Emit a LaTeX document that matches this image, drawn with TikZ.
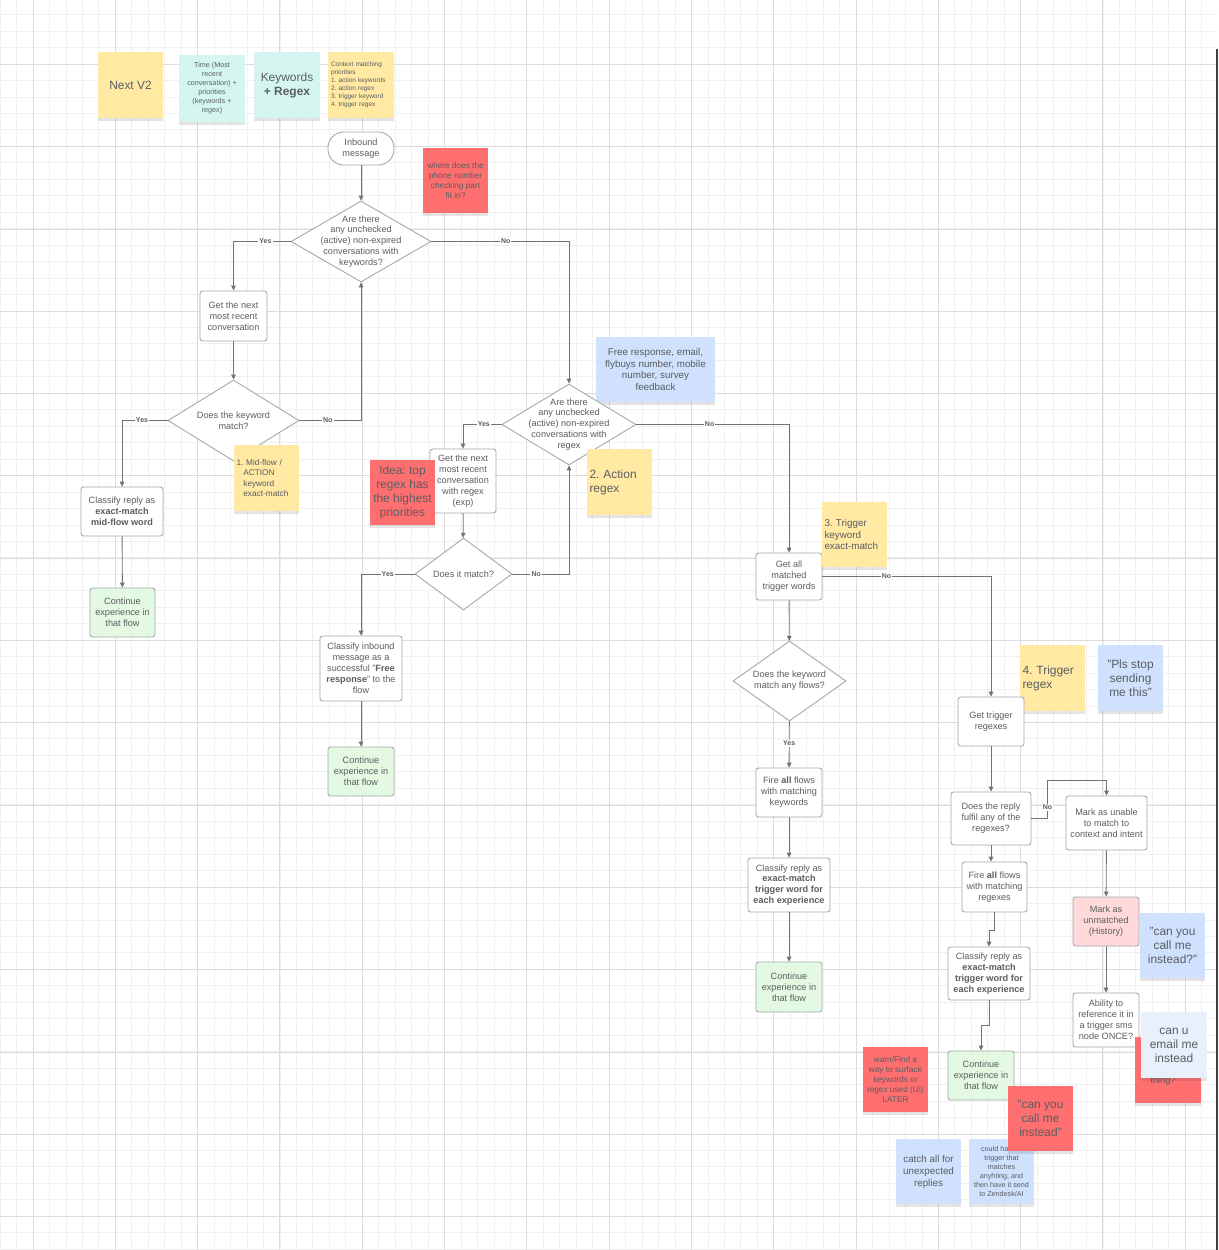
\documentclass[tikz,border=0pt]{standalone}
\usepackage{fontspec}
\setmainfont{Liberation Sans}
\usetikzlibrary{shapes.geometric,arrows.meta,shadows}
\frenchspacing

\definecolor{txtgray}{HTML}{5A5D62}
\definecolor{boxgray}{HTML}{A3A7AD}
\definecolor{linegray}{HTML}{6E737A}
\definecolor{yelst}{HTML}{FFE9A3}
\definecolor{cyanst}{HTML}{D5F6F0}
\definecolor{redst}{HTML}{FF6F6F}
\definecolor{bluest}{HTML}{CFE1FD}
\definecolor{paleblue}{HTML}{E8F0FC}
\definecolor{greenbox}{HTML}{E3F9E1}
\definecolor{pinkbox}{HTML}{FFD9D9}
\definecolor{gridmin}{HTML}{F0F0F0}
\definecolor{gridmaj}{HTML}{DCDCDC}

\begin{document}
\begin{tikzpicture}[x=0.02cm, y=-0.02cm,
  txt/.style={font=\fontsize{5.2}{6.2}\selectfont, text=txtgray, align=center},
  big/.style={font=\fontsize{6.8}{8}\selectfont},
  mid/.style={font=\fontsize{5.6}{6.8}\selectfont},
  small/.style={font=\fontsize{4.7}{5.8}\selectfont},
  tiny/.style={font=\fontsize{4.1}{5.1}\selectfont},
  sz/.style 2 args={minimum width=#1*\pxu, minimum height=#2*\pxu},
  box/.style={draw=boxgray, line width=.5pt, rounded corners=1.5pt, fill=white, inner sep=1pt, txt},
  dec/.style={draw=boxgray, line width=.5pt, diamond, fill=white, inner sep=0pt},
  sticky/.style={fill=#1, inner sep=1pt, txt,
    drop shadow={shadow xshift=0pt, shadow yshift=-1.6pt, opacity=.15, fill=black!70}},
  conn/.style={draw=linegray, line width=.5pt, -{Triangle[width=2.6pt,length=2.8pt]}},
  lbl/.style={font=\fontsize{4}{4}\selectfont\bfseries, text=txtgray, fill=white, inner sep=.6pt}
]

% rozmiar piksela
\def\pxu{0.02cm}

\useasboundingbox (0,0) rectangle (1218,1250);
\fill[white] (0,0) rectangle (1218,1250);

% ---------- Siatka ----------
\foreach \i in {0,...,73} {
  \draw[gridmin, line width=.4pt] ({0.08+16.46*\i},0) -- ++(0,1250);
}
\foreach \j in {0,...,75} {
  \draw[gridmin, line width=.4pt] (0,{14.6+16.46*\j}) -- ++(1218,0);
}
\foreach \i in {0,...,14} {
  \draw[gridmaj, line width=.5pt] ({33+82.3*\i},0) -- ++(0,1250);
}
\foreach \j in {1,...,15} {
  \draw[gridmaj, line width=.5pt] (0,{-17.9+82.3*\j}) -- ++(1218,0);
}
\draw[black!75, line width=.7pt] (1217,49) -- (1217,1250);

% ---------- Karteczki u gory ----------
\node[sticky=yelst, sz={65}{66}, big] (nextv2) at (130.5,85) {Next V2};
\node[sticky=cyanst, sz={66}{67}, tiny] (timep) at (212,88.5)
  {Time (Most\\recent\\conversation) +\\priorities\\(keywords +\\regex)};
\node[sticky=cyanst, sz={66}{66}, big] (kwrx) at (287,85) {Keywords\\\textbf{+ Regex}};
\node[sticky=yelst, sz={66}{66}, font=\fontsize{3.7}{4.6}\selectfont, align=left,
  text width=60*\pxu] (ctxp) at (361,85)
  {Context matching\\priorities\\1. action keywords\\2. action regex\\3. trigger keyword\\4. trigger regex};

% ---------- Start ----------
\node[box, sz={66}{33}, rounded corners=9pt] (inbound) at (361,148.5) {Inbound\\message};
\node[sticky=redst, sz={65}{65}, small] (phone) at (455.5,180.5)
  {where does the\\phone number\\checking part\\fit in?};

% ---------- Slowa kluczowe (mid-flow) ----------
\node[dec, sz={140}{81}, label={[txt]center:{Are there\\any unchecked\\(active) non-expired\\conversations with\\keywords?}}] (d1) at (361,241.5) {};
\node[box, sz={67}{50}] (getnext) at (233.5,316) {Get the next\\most recent\\conversation};
\node[dec, sz={131}{81}, label={[txt]center:{Does the keyword\\match?}}] (d2) at (233.5,420.5) {};
\node[box, sz={82}{49}] (classmid) at (122,511.5) {Classify reply as\\\textbf{exact-match}\\\textbf{mid-flow word}};
\node[box, sz={65}{49}, fill=greenbox] (cont1) at (122.5,612.5) {Continue\\experience in\\that flow};
\node[sticky=yelst, sz={65}{66}, small, align=left, text width=60*\pxu] (mid1) at (266.5,478)
  {1. Mid-flow /\\\phantom{1.}ACTION\\\phantom{1.}keyword\\\phantom{1.}exact-match};

\draw[conn] (inbound) -- (d1);
\draw[conn] (d1.west) -| node[lbl, pos=.22] (y1) {Yes} (getnext.north);
\draw[conn] (getnext) -- (d2);
\draw[conn] (d2.west) -| node[lbl, pos=.28] (y2) {Yes} (classmid.north);
\draw[conn] (d2.east) -| node[lbl, pos=.23] (n2) {No} (d1.south);
\draw[conn] (classmid) -- (cont1);

% ---------- Regex (action) ----------
\node[sticky=bluest, sz={119}{65}, mid] (freeresp) at (655.5,369.5)
  {Free response, email,\\flybuys number, mobile\\number, survey\\feedback};
\node[dec, sz={134}{81}, label={[txt]center:{Are there\\any unchecked\\(active) non-expired\\conversations with\\regex}}] (d3) at (569,424.5) {};
\node[box, sz={66}{64}] (getnextrx) at (463,481) {Get the next\\most recent\\conversation\\with regex\\(exp)};
\node[sticky=redst, sz={65}{65}, big] (idea) at (402.5,492.5) {Idea: top\\regex has\\the highest\\priorities};
\node[sticky=yelst, sz={65}{66}, big, align=left, text width=60*\pxu] (act2) at (619.5,482) {2. Action\\regex};
\node[dec, sz={97}{72}, label={[txt]center:{Does it match?}}] (d4) at (463.5,574) {};
\node[box, sz={82}{65}] (classfree) at (361,668.5)
  {Classify inbound\\message as a\\successful "\textbf{Free}\\\textbf{response}" to the\\flow};
\node[box, sz={66}{49}, fill=greenbox] (cont2) at (361,771.5) {Continue\\experience in\\that flow};

\draw[conn] (d1.east) -| node[lbl, pos=.27] (n1) {No} (d3.north);
\draw[conn] (d3.west) -| node[lbl, pos=.23] (y3) {Yes} (getnextrx.north);
\draw[conn] (getnextrx) -- (d4);
\draw[conn] (d4.west) -| node[lbl, pos=.25] (y4) {Yes} (classfree.north);
\draw[conn] (d4.east) -| node[lbl, pos=.21] (n4) {No} (d3.south);
\draw[conn] (classfree) -- (cont2);

% ---------- Slowa wyzwalajace ----------
\node[box, sz={66}{47}] (gettrig) at (789,576.5) {Get all\\matched\\trigger words};
\node[sticky=yelst, sz={65}{65}, mid, align=left, text width=60*\pxu] (trig3) at (854.5,534.5)
  {3. Trigger\\keyword\\exact-match};
\node[dec, sz={113}{80}, label={[txt]center:{Does the keyword\\match any flows?}}] (d5) at (789.5,681) {};
\node[box, sz={66}{49}] (fireall) at (789,792.5) {Fire \textbf{all} flows\\with matching\\keywords};
\node[box, sz={82}{54}] (classtrig) at (789,885)
  {Classify reply as\\\textbf{exact-match}\\\textbf{trigger word for}\\\textbf{each experience}};
\node[box, sz={66}{50}, fill=greenbox] (cont3) at (789,987) {Continue\\experience in\\that flow};

\draw[conn] (d3.east) -| node[lbl, pos=.24] (n3) {No} (gettrig.north);
\draw[conn] (gettrig) -- (d5);
\draw[conn] (d5) -- node[lbl, pos=.47] (y5) {Yes} (fireall);
\draw[conn] (fireall) -- (classtrig);
\draw[conn] (classtrig) -- (cont3);

% ---------- Regex wyzwalajace ----------
\node[sticky=yelst, sz={65}{66}, big, align=left, text width=60*\pxu] (trig4) at (1052.5,678) {4. Trigger\\regex};
\node[sticky=bluest, sz={65}{66}, big] (plsstop) at (1130.5,678) {"Pls stop\\sending\\me this"};
\node[box, sz={66}{49}] (getrx) at (991,721.5) {Get trigger\\regexes};
\node[box, sz={80}{53}] (dreply) at (991,818.5) {Does the reply\\fulfil any of the\\regexes?};
\node[box, sz={65}{50}] (firerx) at (994.5,887) {Fire \textbf{all} flows\\with matching\\regexes};
\node[box, sz={82}{53}] (classrx) at (989,973.5)
  {Classify reply as\\\textbf{exact-match}\\\textbf{trigger word for}\\\textbf{each experience}};
\node[box, sz={66}{49}, fill=greenbox] (cont4) at (981,1075.5) {Continue\\experience in\\that flow};
\node[box, sz={81}{54}] (unable) at (1106.5,823) {Mark as unable\\to match to\\context and intent};
\node[box, sz={66}{49}, fill=pinkbox] (unmatched) at (1106,921.5) {Mark as\\unmatched\\(History)};
\node[box, sz={66}{54}] (ability) at (1106,1020) {Ability to\\reference it in\\a trigger sms\\node ONCE?};

\draw[conn] (gettrig.east) -| node[lbl, pos=.19] (n5) {No} (getrx.north);
\draw[conn] (getrx) -- (dreply);
\draw[conn] (dreply.east) -- ++(16,0) -- node[lbl, pos=.3] (n6) {No} ++(0,-38) -| (unable.north);
\draw[conn] (dreply.south) -- (dreply.south |- firerx.north);
\draw[conn] (firerx.south) -- ++(0,18) -| (classrx.north);
\draw[conn] (classrx.south) -- ++(0,25) -| (cont4.north);
\draw[conn] (unable) -- (unmatched);
\draw[conn] (unmatched) -- (ability);

% ---------- Karteczki na dole ----------
\node[sticky=bluest, sz={65}{65}, big] (callq) at (1172.5,945.5) {"can you\\call me\\instead?"};
\node[sticky=redst, sz={66}{66}] (redthing) at (1168,1070) {};
\node[txt] (redtxt) at (1163,1081) {thing?};
\node[sticky=paleblue, sz={66}{66}, big] (emailme) at (1174,1045) {can u\\email me\\instead};
\node[sticky=redst, sz={65}{65}, small] (warn) at (895.5,1079.5)
  {warn/Find a\\way to surface\\keywords or\\regex used (UI)\\LATER};
\node[sticky=bluest, sz={65}{65}, mid] (catchall) at (928.5,1171.5) {catch all for\\unexpected\\replies};
\node[sticky=bluest, sz={65}{65}, tiny] (zendesk) at (1001.5,1171.5)
  {could have a\\trigger that\\matches\\anyhting, and\\then have it send\\to Zendesk/AI};
\node[sticky=redst, sz={65}{65}, big] (callred) at (1040.5,1118.5) {"can you\\call me\\instead"};

\end{tikzpicture}
\end{document}
